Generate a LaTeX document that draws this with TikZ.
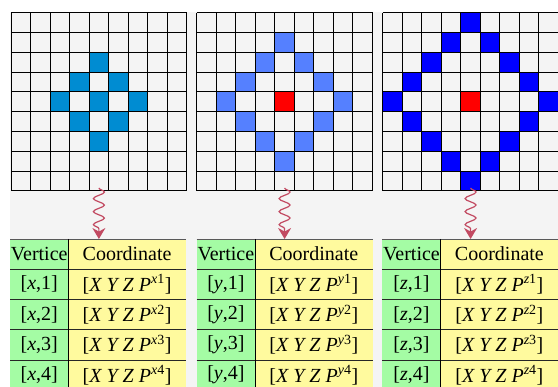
\documentclass[tikz,border=0pt]{standalone}
\usepackage{fontspec}
\setmainfont{Liberation Serif}
\usetikzlibrary{arrows.meta,positioning,decorations.pathmorphing}
\definecolor{bggray}{HTML}{F4F4F4}
\definecolor{ringone}{HTML}{008CD2}
\definecolor{ringtwo}{HTML}{5580FF}
\definecolor{ringthree}{HTML}{0000FF}
\definecolor{seed}{HTML}{FF0000}
\definecolor{vgreen}{HTML}{A4FCA4}
\definecolor{cyellow}{HTML}{FFFA9E}
\definecolor{squig}{HTML}{C24A62}
\tikzset{
  vcell/.style   ={fill=vgreen,minimum width=58.4pt,minimum height=30.25pt,
                   inner sep=0pt,outer sep=0pt,font=\fontsize{20}{21}\selectfont},
  ccell/.style   ={fill=cyellow,minimum width=117.4pt,minimum height=30.25pt,
                   inner sep=0pt,outer sep=0pt,font=\fontsize{20}{21}\selectfont},
  gridline/.style={line width=1pt,draw=black},
  topline/.style ={line width=0.9pt,draw=black!65},
  rowline/.style ={line width=0.9pt,draw=black!85},
  divline/.style ={line width=1pt,draw=black},
  wave/.style    ={-{Stealth[length=11pt,width=13pt]},line width=1.2pt,draw=squig,
                   decorate,decoration={snake,amplitude=5.5pt,segment length=13pt,
                   post length=10pt}}
}
\newcommand{\cellw}{19.53}
\newcommand{\cellh}{19.8}

\begin{document}
\begin{tikzpicture}[x=1pt,y=1pt]
  \useasboundingbox (0,0) rectangle (558,387);
  \clip (0,0) rectangle (558,387);
  \fill[white] (0,0) rectangle (558,387);
  \fill[bggray] (10,0) rectangle (558,374.5);

  % grids: (row from top)/(column)
  \begin{scope}[shift={(11,196)}]
    \foreach \r/\c in {2/4,3/3,3/5,4/2,4/4,4/6,5/3,5/5,6/4}
      \fill[ringone] (\c*\cellw,{(8-\r)*\cellh}) rectangle ({(\c+1)*\cellw},{(9-\r)*\cellh});
    \draw[gridline] (0,0) grid[xstep=\cellw,ystep=\cellh] (175.8,178.25);
    \coordinate (gx) at (4.5*\cellw,3);
  \end{scope}
  \begin{scope}[shift={(196.7,196)}]
    \foreach \r/\c in {1/4,2/3,2/5,3/2,3/6,4/1,4/7,5/2,5/6,6/3,6/5,7/4}
      \fill[ringtwo] (\c*\cellw,{(8-\r)*\cellh}) rectangle ({(\c+1)*\cellw},{(9-\r)*\cellh});
    \fill[seed] (4*\cellw,4*\cellh) rectangle (5*\cellw,5*\cellh);
    \draw[gridline] (0,0) grid[xstep=\cellw,ystep=\cellh] (175.8,178.25);
    \coordinate (gy) at (4.5*\cellw,3);
  \end{scope}
  \begin{scope}[shift={(382.7,196)}]
    \foreach \r/\c in {0/4,1/3,1/5,2/2,2/6,3/1,3/7,4/0,4/8,5/1,5/7,6/2,6/6,7/3,7/5,8/4}
      \fill[ringthree] (\c*\cellw,{(8-\r)*\cellh}) rectangle ({(\c+1)*\cellw},{(9-\r)*\cellh});
    \fill[seed] (4*\cellw,4*\cellh) rectangle (5*\cellw,5*\cellh);
    \draw[gridline] (0,0) grid[xstep=\cellw,ystep=\cellh] (175.8,178.25);
    \coordinate (gz) at (4.5*\cellw,3);
  \end{scope}

  % tables
  \foreach \t/\xl in {x/10,y/196.7,z/382.3} {
    \node[vcell,anchor=north west] (v\t0) at (\xl,148) {Vertice};
    \node[ccell,right=0pt of v\t0] (c\t0) {Coordinate};
    \foreach \i in {1,...,4} {
      \node[vcell,anchor=north west] (v\t\i) at (\xl,{148-\i*30.25}) {[\textit{\t},\i]};
      \node[ccell,right=0pt of v\t\i] (c\t\i)
        {[\textit{X Y Z P}\textsuperscript{\textit{\t}\i}]};
      \draw[rowline] (v\t\i.north west) -- (c\t\i.north east);
    }
    \draw[topline] (v\t0.north west) -- (c\t0.north east);
    \draw[divline] (c\t0.north west) -- (c\t4.south west);
  }

  % wavy arrows
  \draw[wave] (gx) -- (gx |- cx0.north);
  \draw[wave] (gy) -- (gy |- cy0.north);
  \draw[wave] (gz) -- (gz |- cz0.north);
\end{tikzpicture}
\end{document}
